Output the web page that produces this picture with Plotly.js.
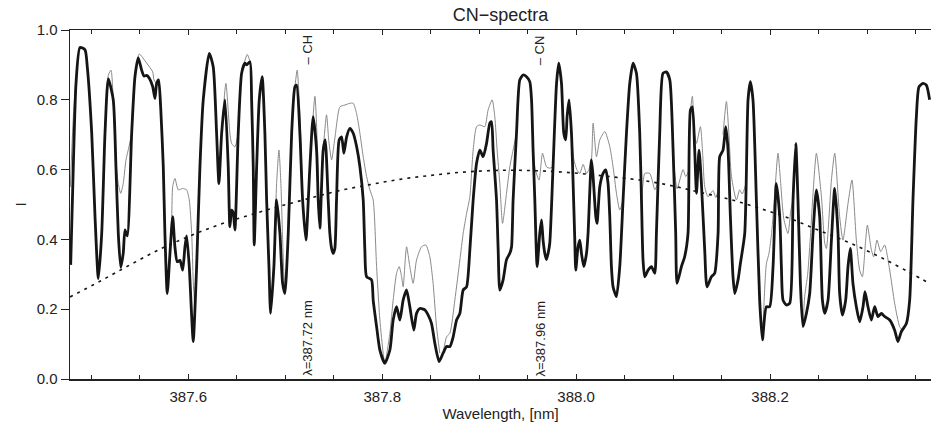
<!DOCTYPE html>
<html><head><meta charset="utf-8">
<script src="https://cdn.plot.ly/plotly-3.0.1.min.js"></script>
<style>html,body{margin:0;padding:0;background:#fff}#chart{width:931px;height:425px}</style>
</head><body><div id="chart"></div>
<script>
// wavelength [nm] and intensity of the thick (observed) spectrum
const thickX = [387.4787,387.4814,387.4842,387.4883,387.4935,387.4958,387.5004,387.5038,387.5072,387.5107,387.5141,387.5175,387.5226,387.5254,387.5278,387.5303,387.5329,387.5347,387.5371,387.5416,387.5450,387.5484,387.5519,387.5543,387.5571,387.5598,387.5633,387.5656,387.5674,387.5694,387.5715,387.5742,387.5759,387.5783,387.5811,387.5839,387.5862,387.5886,387.5914,387.5942,387.5966,387.5983,387.6010,387.6035,387.6051,387.6086,387.6120,387.6154,387.6216,387.6257,387.6292,387.6316,387.6344,387.6378,387.6412,387.6429,387.6447,387.6464,387.6481,387.6515,387.6550,387.6584,387.6602,387.6636,387.6653,387.6670,387.6680,387.6705,387.6732,387.6762,387.6790,387.6808,387.6832,387.6849,387.6883,387.6911,387.6945,387.6973,387.6996,387.7031,387.7066,387.7100,387.7117,387.7151,387.7179,387.7213,387.7254,387.7288,387.7323,387.7340,387.7357,387.7391,387.7412,387.7443,387.7460,387.7478,387.7494,387.7512,387.7529,387.7556,387.7581,387.7605,387.7633,387.7667,387.7701,387.7736,387.7770,387.7804,387.7821,387.7839,387.7890,387.7907,387.7942,387.7976,387.8027,387.8079,387.8113,387.8148,387.8182,387.8216,387.8251,387.8285,387.8326,387.8354,387.8388,387.8440,387.8474,387.8509,387.8543,387.8587,387.8628,387.8664,387.8698,387.8732,387.8767,387.8801,387.8835,387.8870,387.8904,387.8938,387.8973,387.9007,387.9041,387.9076,387.9110,387.9127,387.9144,387.9179,387.9196,387.9213,387.9247,387.9282,387.9316,387.9334,387.9350,387.9385,387.9419,387.9453,387.9488,387.9522,387.9540,387.9556,387.9574,387.9598,387.9625,387.9643,387.9659,387.9677,387.9694,387.9711,387.9728,387.9762,387.9798,387.9821,387.9849,387.9873,387.9893,387.9907,387.9927,387.9952,387.9969,387.9986,387.9996,388.0020,388.0038,388.0055,388.0079,388.0107,388.0123,388.0158,388.0175,388.0203,388.0216,388.0244,388.0278,388.0306,388.0329,388.0347,388.0364,388.0381,388.0416,388.0450,388.0484,388.0519,388.0553,388.0587,388.0622,388.0656,388.0674,388.0690,388.0708,388.0742,388.0777,388.0811,388.0828,388.0862,388.0896,388.0931,388.0966,388.1000,388.1027,388.1041,388.1086,388.1120,388.1154,388.1179,388.1199,388.1223,388.1241,388.1268,388.1292,388.1326,388.1350,388.1395,388.1429,388.1464,388.1481,388.1515,388.1543,388.1567,388.1591,388.1618,388.1636,388.1670,388.1694,388.1739,388.1773,388.1797,388.1824,388.1859,388.1893,388.1921,388.1962,388.1996,388.2031,388.2065,388.2100,388.2117,388.2134,388.2168,388.2203,388.2237,388.2265,388.2288,388.2313,388.2340,388.2375,388.2409,388.2443,388.2478,388.2512,388.2540,388.2564,388.2598,388.2633,388.2667,388.2701,388.2718,388.2746,388.2780,388.2804,388.2828,388.2855,388.2890,388.2924,388.2959,388.2979,388.3010,388.3045,388.3079,388.3113,388.3148,388.3182,388.3234,388.3285,388.3319,388.3354,388.3406,388.3440,388.3474,388.3509,388.3536,388.3577,388.3612,388.3646];
const thickY = [0.327,0.608,0.847,0.95,0.943,0.895,0.704,0.465,0.288,0.417,0.704,0.86,0.80,0.608,0.417,0.32,0.36,0.427,0.41,0.704,0.866,0.92,0.885,0.868,0.87,0.862,0.838,0.804,0.847,0.857,0.78,0.608,0.417,0.245,0.36,0.465,0.379,0.336,0.34,0.312,0.38,0.41,0.322,0.179,0.107,0.322,0.608,0.799,0.933,0.895,0.704,0.56,0.704,0.80,0.608,0.436,0.484,0.475,0.427,0.704,0.876,0.905,0.90,0.909,0.80,0.608,0.384,0.608,0.80,0.866,0.704,0.513,0.322,0.188,0.322,0.513,0.417,0.274,0.245,0.417,0.704,0.838,0.842,0.704,0.513,0.398,0.608,0.752,0.656,0.513,0.432,0.656,0.685,0.513,0.417,0.374,0.36,0.375,0.513,0.685,0.694,0.647,0.694,0.718,0.704,0.666,0.608,0.513,0.37,0.293,0.284,0.226,0.15,0.083,0.045,0.083,0.169,0.207,0.169,0.226,0.255,0.207,0.14,0.188,0.202,0.198,0.183,0.159,0.102,0.05,0.074,0.093,0.093,0.121,0.169,0.188,0.255,0.264,0.37,0.513,0.618,0.656,0.637,0.675,0.733,0.737,0.656,0.513,0.37,0.255,0.284,0.342,0.36,0.379,0.513,0.704,0.857,0.871,0.866,0.852,0.80,0.656,0.513,0.322,0.417,0.456,0.398,0.36,0.342,0.36,0.389,0.608,0.847,0.905,0.847,0.704,0.685,0.752,0.80,0.704,0.561,0.40,0.312,0.379,0.398,0.36,0.322,0.36,0.417,0.628,0.58,0.465,0.446,0.551,0.589,0.599,0.561,0.465,0.322,0.264,0.236,0.322,0.513,0.704,0.847,0.905,0.876,0.704,0.513,0.341,0.293,0.312,0.322,0.303,0.417,0.704,0.876,0.88,0.857,0.656,0.417,0.274,0.322,0.351,0.417,0.771,0.78,0.656,0.532,0.656,0.561,0.37,0.264,0.293,0.303,0.417,0.637,0.656,0.723,0.656,0.465,0.293,0.245,0.284,0.331,0.417,0.80,0.852,0.80,0.513,0.226,0.112,0.207,0.207,0.322,0.56,0.465,0.322,0.226,0.212,0.217,0.513,0.675,0.513,0.274,0.15,0.188,0.245,0.417,0.542,0.465,0.226,0.188,0.226,0.398,0.546,0.417,0.245,0.183,0.226,0.322,0.374,0.274,0.207,0.164,0.207,0.25,0.207,0.169,0.207,0.179,0.188,0.179,0.169,0.14,0.107,0.136,0.159,0.226,0.513,0.751,0.837,0.847,0.842,0.80];

// thin (grey) spectrum, only where it departs from the thick one; null separates the pieces
const thinX = [387.4783,387.4814,387.4842,null,
 387.5141,387.5175,387.5203,387.5226,387.5254,387.5278,387.5303,387.5329,387.5357,387.5388,387.5416,null,
 387.5450,387.5494,387.5571,387.5633,387.5646,387.5674,null,
 387.5811,387.5829,387.5839,387.5862,387.5897,387.5942,387.5983,387.6010,387.6035,387.6051,387.6069,null,
 387.6344,387.6388,387.6429,387.6447,387.6481,387.6515,null,
 387.6550,387.6608,387.6636,null,
 387.6883,387.6911,387.6935,387.6955,387.6973,387.6986,387.7002,null,
 387.7100,387.7123,387.7151,387.7179,null,
 387.7254,387.7306,387.7332,387.7347,null,
 387.7391,387.7426,387.7450,387.7478,387.7512,387.7564,387.7615,387.7667,387.7701,387.7736,387.7770,387.7804,387.7839,387.7873,387.7907,387.7942,387.7976,387.8010,387.8027,
 387.8079,387.8113,387.8148,387.8175,387.8200,387.8216,387.8251,387.8285,387.8319,387.8354,387.8406,387.8450,387.8491,387.8525,387.8560,387.8594,null,
 387.8628,387.8664,387.8698,387.8749,387.8801,387.8835,387.8870,387.8904,387.8938,387.8973,387.9007,387.9058,387.9092,387.9134,387.9161,387.9185,387.9213,387.9241,387.9282,387.9316,387.9350,387.9385,null,
 387.9556,387.9579,387.9618,387.9653,387.9694,387.9728,387.9762,null,
 387.9952,387.9976,388.0007,388.0038,388.0072,388.0107,388.0131,388.0158,388.0175,388.0210,388.0244,388.0296,388.0347,388.0381,388.0416,388.0450,388.0484,null,
 388.0674,388.0690,388.0708,388.0759,388.0793,388.0811,388.0842,null,
 388.1000,388.1041,388.1069,388.1103,388.1131,388.1167,null,
 388.1179,388.1199,388.1223,388.1241,388.1282,388.1306,388.1326,388.1360,388.1412,388.1440,388.1471,null,
 388.1515,388.1550,388.1574,388.1602,388.1653,388.1687,388.1713,388.1752,null,
 388.1921,388.1935,388.1962,388.1989,388.2017,388.2048,388.2082,388.2110,388.2141,388.2185,388.2213,388.2237,null,
 388.2340,388.2357,388.2388,388.2419,388.2443,388.2478,388.2530,388.2564,388.2581,388.2633,388.2667,388.2718,388.2752,388.2804,388.2845,388.2890,388.2924,388.2952,388.2986,388.3004,388.3045,388.3069,388.3103,388.3141,388.3182,388.3234,388.3285,388.3337,388.3368,388.3406];
const thinY = [0.55,0.75,0.86,null,
 0.704,0.87,0.885,0.80,0.62,0.56,0.532,0.56,0.627,0.665,0.704,null,
 0.866,0.931,0.905,0.88,0.857,0.845,null,
 0.36,0.465,0.551,0.575,0.542,0.546,0.542,0.513,0.417,0.28,0.2,null,
 0.704,0.847,0.704,0.675,0.665,0.704,null,
 0.876,0.93,0.91,null,
 0.322,0.56,0.656,0.56,0.40,0.30,0.25,null,
 0.838,0.885,0.76,0.513,null,
 0.608,0.81,0.66,0.47,null,
 0.656,0.757,0.68,0.628,0.69,0.78,0.785,0.79,0.79,0.76,0.704,0.637,0.58,0.542,0.513,0.322,0.169,0.074,0.045,
 0.131,0.226,0.303,0.322,0.293,0.264,0.379,0.322,0.274,0.341,0.379,0.384,0.35,0.274,0.15,0.074,null,
 0.074,0.121,0.131,0.226,0.341,0.417,0.474,0.522,0.656,0.723,0.728,0.723,0.771,0.80,0.752,0.656,0.561,0.446,0.532,0.608,0.656,0.704,null,
 0.656,0.60,0.57,0.647,0.608,0.604,0.608,null,
 0.704,0.63,0.60,0.589,0.615,0.589,0.60,0.628,0.733,0.637,0.685,0.709,0.666,0.608,0.532,0.484,0.513,null,
 0.513,0.56,0.589,0.589,0.56,0.542,0.56,null,
 0.64,0.545,0.57,0.60,0.58,0.60,null,
 0.771,0.81,0.70,0.675,0.723,0.64,0.551,0.522,0.54,0.52,0.55,null,
 0.70,0.795,0.71,0.58,0.513,0.542,0.53,0.56,null,
 0.112,0.2,0.33,0.36,0.42,0.53,0.647,0.56,0.46,0.417,0.48,0.513,null,
 0.15,0.236,0.30,0.42,0.53,0.647,0.522,0.389,0.374,0.57,0.647,0.465,0.398,0.503,0.57,0.398,0.312,0.293,0.398,0.441,0.37,0.35,0.398,0.365,0.384,0.312,0.217,0.15,0.14,0.159];

// dotted reference curve
const dotX = [387.478,387.5089,387.5399,387.5708,387.6017,387.6326,387.6636,387.6945,387.7254,387.7563,387.7873,387.8182,387.8491,387.8801,387.911,387.9419,387.9728,388.0038,388.0347,388.0656,388.0966,388.1275,388.1584,388.1893,388.2203,388.2512,388.2821,388.3131,388.344,388.3656];
const dotY = [0.235,0.28,0.327,0.372,0.41,0.443,0.47,0.495,0.518,0.54,0.557,0.572,0.583,0.592,0.597,0.598,0.595,0.589,0.58,0.57,0.555,0.535,0.515,0.489,0.46,0.425,0.39,0.35,0.305,0.272];

const xTickVals = [387.6, 387.8, 388.0, 388.2];
const xTickText = ["387.6", "387.8", "388.0", "388.2"];
const yTickVals = [0.0, 0.2, 0.4, 0.6, 0.8, 1.0];
const yTickText = ["0.0", "0.2", "0.4", "0.6", "0.8", "1.0"];
const markLines = [387.72, 387.96];
const markTop = ["– CH", "– CN"];
const markBottom = ["λ=387.72 nm", "λ=387.96 nm"];

const FONT = "Liberation Sans, Arial, sans-serif";

const traces = [
  {x: thinX, y: thinY, type: "scatter", mode: "lines", connectgaps: false,
   line: {color: "#8a8a8a", width: 1, shape: "spline", smoothing: 0.6}, hoverinfo: "skip"},
  {x: thickX, y: thickY, type: "scatter", mode: "lines",
   line: {color: "#151515", width: 2.8, shape: "spline", smoothing: 0.6}},
  {x: dotX, y: dotY, type: "scatter", mode: "lines",
   line: {color: "#151515", width: 1.6, dash: "3px,5px", shape: "spline"}}
];

const annotations = [];
markLines.forEach((w, i) => {
  annotations.push({x: w, y: 0.943, xref: "x", yref: "y", text: markTop[i], showarrow: false,
    textangle: -90, xshift: 3, font: {family: FONT, size: 13, color: "#222"}});
  annotations.push({x: w, y: 0.117, xref: "x", yref: "y", text: markBottom[i], showarrow: false,
    textangle: -90, xshift: 3, font: {family: FONT, size: 13, color: "#222"}});
});

const layout = {
  width: 931, height: 425,
  margin: {l: 70, r: 0, t: 30, b: 46},
  paper_bgcolor: "#fff", plot_bgcolor: "#fff",
  showlegend: false,
  font: {family: FONT, size: 15, color: "#222"},
  title: {text: "CN−spectra", x: 0.5, xref: "paper", y: 1 - 15/425, yref: "container", yanchor: "middle",
          font: {family: FONT, size: 18, color: "#222"}},
  xaxis: {range: [387.478, 388.366], tickmode: "array", tickvals: xTickVals, ticktext: xTickText,
          ticks: "inside", ticklen: 5, tickwidth: 1, tickcolor: "#222",
          showline: true, linecolor: "#222", linewidth: 1.5, mirror: "ticks",
          showgrid: false, zeroline: false, ticklabelstandoff: 3,
          minor: {tickmode: "linear", tick0: 387.5, dtick: 0.05, ticks: "inside", ticklen: 4, tickcolor: "#222", showgrid: false},
          tickfont: {family: FONT, size: 15, color: "#222"},
          title: {text: "Wavelength, [nm]", standoff: 0, font: {family: FONT, size: 15, color: "#222"}}},
  yaxis: {range: [0, 1.0], tickmode: "array", tickvals: yTickVals, ticktext: yTickText,
          ticks: "outside", ticklen: 8, tickwidth: 1, tickcolor: "#222",
          showline: true, linecolor: "#222", linewidth: 1.5, mirror: false,
          showgrid: false, zeroline: false,
          tickfont: {family: FONT, size: 15, color: "#222"},
          title: {text: "I", standoff: 6, font: {family: FONT, size: 15, color: "#222"}}},
  annotations: annotations
};

Plotly.newPlot("chart", traces, layout, {displayModeBar: false, staticPlot: true});
</script></body></html>
